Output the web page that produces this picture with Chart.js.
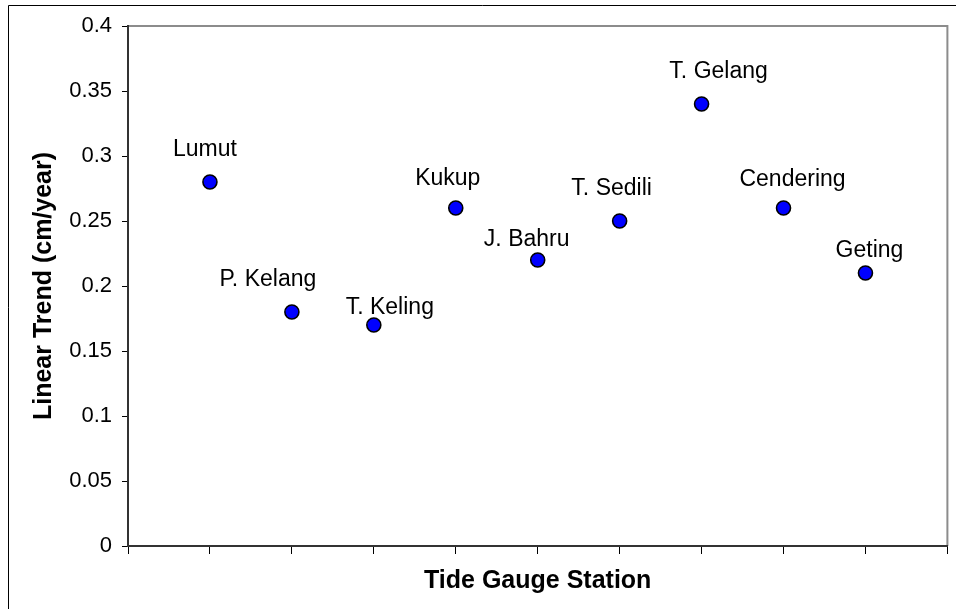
<!DOCTYPE html>
<html>
<head>
<meta charset="utf-8">
<script src="https://cdn.jsdelivr.net/npm/chart.js@4/dist/chart.umd.min.js"></script>
<style>
html,body{margin:0;padding:0;background:#fff;}
#wrap{width:956px;height:609px;position:relative;}
canvas{display:block;}
</style>
</head>
<body>
<div id="wrap"><canvas id="c" width="956" height="609"></canvas></div>
<script>
// ---- data ----
const stations = ["Lumut", "P. Kelang", "T. Keling", "Kukup", "J. Bahru", "T. Sedili", "T. Gelang", "Cendering", "Geting"];
const trends = [0.28, 0.18, 0.17, 0.26, 0.22, 0.25, 0.34, 0.26, 0.21];
const yMin = 0, yMax = 0.4, yStep = 0.05;
const xTitle = "Tide Gauge Station";
const yTitle = "Linear Trend (cm/year)";

// ---- label placement (pixel offsets from each marker, style only) ----
const labelDx = [-5, -24, 16, -8, -11, -8, 17, 9, 4];
const labelDy = [-26, -26, -11, -23, -14, -26, -26, -22, -16];

const FONT = "'Liberation Sans', Arial, Helvetica, sans-serif";

const points = trends.map((v, i) => ({ x: i + 1, y: v }));

const framePlugin = {
  id: 'frame',
  beforeDraw(chart) {
    const ctx = chart.ctx;
    ctx.save();
    ctx.fillStyle = '#fff';
    ctx.fillRect(0, 0, chart.width, chart.height);
    ctx.strokeStyle = '#000';
    ctx.lineWidth = 1;
    ctx.beginPath();
    ctx.moveTo(8.5, chart.height + 2);
    ctx.lineTo(8.5, 5.5);
    ctx.lineTo(chart.width + 2, 5.5);
    ctx.stroke();
    const a = chart.chartArea;
    ctx.strokeStyle = '#8c8c8c';
    ctx.lineWidth = 2;
    ctx.beginPath();
    ctx.moveTo(a.left, a.top);
    ctx.lineTo(a.right, a.top);
    ctx.lineTo(a.right, a.bottom);
    ctx.stroke();
    ctx.restore();
  }
};

const labelPlugin = {
  id: 'ptlabels',
  afterDatasetsDraw(chart) {
    const ctx = chart.ctx;
    const meta = chart.getDatasetMeta(0);
    ctx.save();
    ctx.font = '23px ' + FONT;
    ctx.fillStyle = '#000';
    ctx.textAlign = 'center';
    ctx.textBaseline = 'alphabetic';
    meta.data.forEach((el, i) => {
      ctx.fillText(stations[i], el.x + labelDx[i], el.y + labelDy[i]);
    });
    ctx.restore();
  }
};

new Chart(document.getElementById('c'), {
  type: 'scatter',
  data: {
    datasets: [{
      data: points,
      backgroundColor: '#0000ff',
      borderColor: '#000',
      borderWidth: 1.6,
      pointRadius: 7,
      pointHoverRadius: 7
    }]
  },
  options: {
    responsive: false,
    animation: false,
    devicePixelRatio: 1,
    layout: { padding: { top: 26, right: 8, left: 0, bottom: 0 } },
    plugins: { legend: { display: false }, tooltip: { enabled: false } },
    scales: {
      x: {
        type: 'linear',
        position: 'bottom',
        min: 0,
        max: stations.length + 1,
        ticks: { stepSize: 1, callback: () => '', font: { size: 1 } },
        grid: { drawOnChartArea: false, drawTicks: true, tickLength: 8, color: '#000', lineWidth: 1 },
        border: { display: true, color: '#333', width: 2 },
        title: {
          display: true, text: xTitle, color: '#000',
          font: { family: FONT, size: 25, weight: 'bold' },
          padding: { top: 0, bottom: 13 }
        },
        afterFit: s => { s.height = 63; }
      },
      y: {
        type: 'linear',
        position: 'left',
        min: yMin,
        max: yMax,
        ticks: {
          stepSize: yStep,
          color: '#000',
          padding: 10,
          font: { family: FONT, size: 22 },
          callback: v => String(+Number(v).toFixed(2))
        },
        grid: { drawOnChartArea: false, drawTicks: true, tickLength: 6, color: '#000', lineWidth: 1 },
        border: { display: true, color: '#333', width: 2 },
        title: {
          display: true, text: yTitle, color: '#000',
          font: { family: FONT, size: 25, weight: 'bold' },
          padding: { top: 29, bottom: 0 }
        },
        afterFit: s => { s.width = 128; }
      }
    }
  },
  plugins: [framePlugin, labelPlugin]
});
</script>
</body>
</html>
